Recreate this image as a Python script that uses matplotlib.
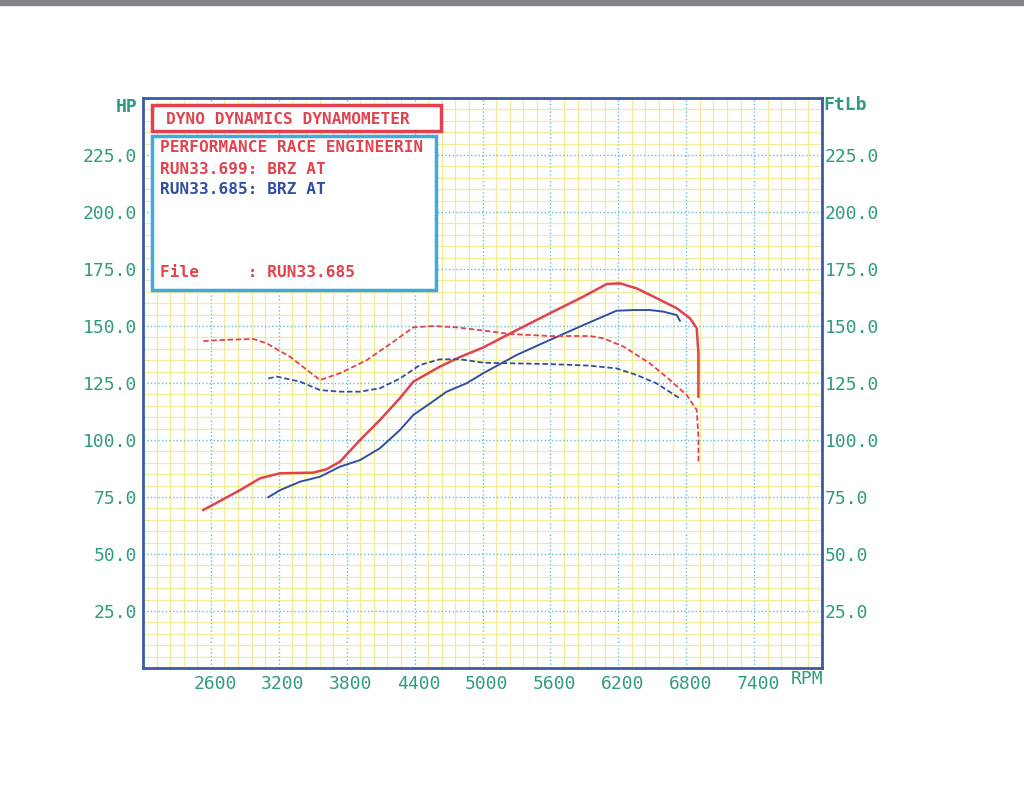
import numpy as np
import matplotlib
matplotlib.use("Agg")
import matplotlib.pyplot as plt
import matplotlib.transforms as mtransforms
from matplotlib.patches import Rectangle
from matplotlib.ticker import FormatStrFormatter

# Run 33.699 (red) - power and torque
rpm_hp_699 = [2533, 2857, 3034, 3211, 3505, 3623, 3741, 3918, 4094, 4271, 4389, 4624,
              4801, 5007, 5302, 5596, 5891, 6097, 6215, 6362, 6539, 6716, 6833, 6893,
              6908, 6908]
hp_699 = [69.3, 78.0, 83.2, 85.4, 85.7, 87.2, 90.5, 100.0, 108.8, 118.4, 125.6, 132.2,
          136.4, 140.6, 148.2, 155.6, 162.9, 168.4, 168.7, 166.5, 162.2, 157.8, 153.4, 149.0,
          138.0, 119.0]
rpm_tq_699 = [2533, 2709, 2975, 3093, 3299, 3564, 3741, 3976, 4212, 4389, 4566, 4771,
              5007, 5243, 5596, 5950, 6068, 6245, 6480, 6657, 6804, 6893, 6908, 6908]
tq_699 = [143.4, 143.9, 144.3, 142.4, 136.5, 126.3, 129.3, 135.0, 143.1, 149.4, 150.0, 149.4,
          148.0, 146.5, 145.6, 145.6, 144.6, 141.0, 133.6, 126.3, 119.7, 113.2, 101.5, 90.5]

# Run 33.685 (blue) - power and torque
rpm_hp_685 = [3107, 3211, 3387, 3564, 3741, 3918, 4094, 4271, 4389, 4536, 4683, 4860,
              5007, 5302, 5596, 5891, 6185, 6332, 6480, 6598, 6716, 6745]
hp_685 = [74.9, 78.0, 81.7, 83.9, 88.3, 91.2, 96.4, 104.4, 111.0, 116.0, 121.2, 124.9,
          129.3, 137.3, 143.9, 150.4, 156.7, 157.0, 157.0, 156.3, 154.8, 152.3]
rpm_tq_685 = [3107, 3181, 3387, 3564, 3741, 3918, 4094, 4271, 4448, 4624, 4801, 5007,
              5302, 5596, 5950, 6185, 6362, 6539, 6745]
tq_685 = [127.0, 127.8, 125.6, 121.9, 121.2, 121.2, 122.7, 127.0, 132.9, 135.4, 135.4, 133.9,
          133.6, 133.3, 132.6, 131.4, 128.5, 124.8, 118.2]

x_ticks = [2600, 3200, 3800, 4400, 5000, 5600, 6200, 6800, 7400]
y_ticks = [25, 50, 75, 100, 125, 150, 175, 200, 225]

red = "#e2424e"
blue = "#2f50a2"
teal = "#2e9c7e"
mono = "DejaVu Sans Mono"

fig = plt.figure(figsize=(10.24, 7.91), dpi=100)
# grey scanner edge at the top
fig.patches.append(Rectangle((0, 1 - 5 / 791), 1, 5 / 791, transform=fig.transFigure,
                             color="#85838a", zorder=0))
ax = fig.add_axes([143 / 1024, 1 - 668 / 791, 679 / 1024, 570 / 791])
ax.set_xlim(2000, 8000)
ax.set_ylim(0, 250)

# graph paper grid
ax.set_xticks(x_ticks)
ax.set_xticks(np.arange(2000, 8001, 120), minor=True)
ax.set_yticks(y_ticks)
ax.set_yticks(np.arange(0, 251, 5), minor=True)
ax.grid(which="minor", color="#f2eb98", lw=0.9, zorder=0)
ax.grid(which="major", color="#63b9df", lw=1.0, ls=":", zorder=1)
ax.yaxis.set_major_formatter(FormatStrFormatter("%.1f"))
ax.tick_params(which="both", length=0)
ax.tick_params(axis="y", pad=4, labelsize=13, labelcolor=teal)
ax.tick_params(axis="x", pad=5, labelsize=13, labelcolor=teal)
shift = mtransforms.ScaledTranslation(4 / 100, 0, fig.dpi_scale_trans)
for lab in ax.get_xticklabels():
    lab.set_family(mono)
    lab.set_transform(lab.get_transform() + shift)
for lab in ax.get_yticklabels():
    lab.set_family(mono)
for s in ax.spines.values():
    s.set_color("#3b5aa8")
    s.set_linewidth(2)

# right-hand FtLb scale
ax2 = ax.twinx()
ax2.set_ylim(0, 250)
ax2.set_yticks(y_ticks)
ax2.yaxis.set_major_formatter(FormatStrFormatter("%.1f"))
ax2.tick_params(length=0, pad=2, labelsize=13, labelcolor=teal)
for lab in ax2.get_yticklabels():
    lab.set_family(mono)
for s in ax2.spines.values():
    s.set_visible(False)

# curves
ax.plot(rpm_hp_699, hp_699, color=red, lw=1.8, zorder=5)
ax.plot(rpm_hp_685, hp_685, color=blue, lw=1.4, zorder=5)
ax.plot(rpm_tq_699, tq_699, color=red, lw=1.3, ls=(0, (3, 1.5)), zorder=5)
ax.plot(rpm_tq_685, tq_685, color=blue, lw=1.3, ls=(0, (3, 1.5)), zorder=5)

# header boxes
ax.add_patch(Rectangle((0.0133, 0.942), 0.4256, 0.0457, transform=ax.transAxes,
                       facecolor="white", edgecolor=red, lw=2.5, zorder=6))
ax.add_patch(Rectangle((0.0133, 0.6632), 0.4182, 0.2701, transform=ax.transAxes,
                       facecolor="white", edgecolor="#3fa9e0", lw=2.5, zorder=6))
tkw = dict(transform=ax.transAxes, family=mono, fontsize=11.6, fontweight="bold",
           va="center", ha="left", zorder=7)
ax.text(0.0339, 0.963, "DYNO DYNAMICS DYNAMOMETER", color=red, **tkw)
ax.text(0.025, 0.914, "PERFORMANCE RACE ENGINEERIN", color=red, **tkw)
ax.text(0.025, 0.875, "RUN33.699: BRZ AT", color=red, **tkw)
ax.text(0.025, 0.840, "RUN33.685: BRZ AT", color=blue, **tkw)
ax.text(0.025, 0.693, "File     : RUN33.685", color=red, **tkw)

# axis unit labels
fig.text(127 / 1024, 1 - 107 / 791, "HP", color=teal, family=mono, fontsize=13,
         fontweight="bold", ha="center", va="center")
fig.text(823 / 1024, 1 - 105 / 791, "FtLb", color=teal, family=mono, fontsize=13,
         fontweight="bold", ha="left", va="center")
fig.text(807 / 1024, 1 - 679 / 791, "RPM", color=teal, family=mono, fontsize=13,
         ha="center", va="center")

fig.savefig("out.png", dpi=100, facecolor="white")
